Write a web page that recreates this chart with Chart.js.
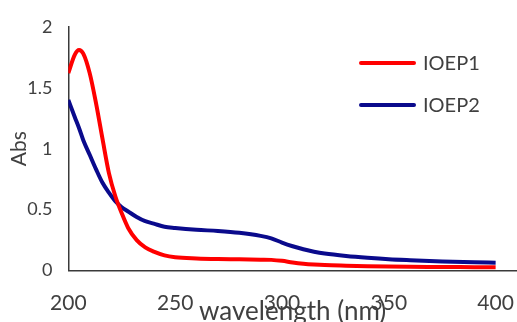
<!DOCTYPE html>
<html>
<head>
<meta charset="utf-8">
<title>UV-Vis absorbance</title>
<script src="https://cdn.jsdelivr.net/npm/chart.js@4"></script>
<style>
  html, body { margin: 0; padding: 0; background: #fff; }
  #wrap { width: 517px; height: 322px; position: relative; }
</style>
</head>
<body>
<div id="wrap"><canvas id="spectra"></canvas></div>
<script>
// Wavelengths (nm) where absorbance was sampled
const wavelengths = [200, 203, 205, 207, 210, 213, 216, 219, 222, 225, 228, 232, 236, 240, 245, 250,
    260, 270, 280, 290, 295, 300, 305, 310, 315, 320, 330, 340, 350, 360, 375, 390, 400];

// Absorbance readings for each sample
const ioep1 = [1.62, 1.77, 1.81, 1.78, 1.62, 1.37, 1.08, 0.80, 0.61, 0.47, 0.35, 0.25, 0.19, 0.155, 0.125, 0.11,
    0.10, 0.095, 0.093, 0.09, 0.088, 0.08, 0.067, 0.057, 0.05, 0.045, 0.04, 0.036, 0.033, 0.031, 0.03, 0.028, 0.027];
const ioep2 = [1.40, 1.26, 1.17, 1.07, 0.95, 0.83, 0.72, 0.64, 0.57, 0.52, 0.485, 0.44, 0.405, 0.385, 0.36, 0.35,
    0.335, 0.325, 0.31, 0.285, 0.265, 0.23, 0.20, 0.175, 0.155, 0.14, 0.12, 0.105, 0.093, 0.085, 0.075, 0.068, 0.065];

const seriesNames = ['IOEP1', 'IOEP2'];
const seriesColors = ['#ff0000', '#0a0a8c'];

const xTicks = [200, 250, 300, 350, 400];
const yTicks = [0, 0.5, 1, 1.5, 2];

const textColor = '#404040';
const axisColor = '#3a3a3a';

function toPoints(values) {
    return wavelengths.map((w, i) => ({ x: w, y: values[i] }));
}

// Legend drawn inside the plot, to the upper right
const insideLegend = {
    id: 'insideLegend',
    afterDraw(chart) {
        const ctx = chart.ctx;
        ctx.save();
        ctx.font = '20px Lato';
        ctx.textBaseline = 'middle';
        ctx.textAlign = 'left';
        chart.data.datasets.forEach((ds, i) => {
            const y = 63 + i * 42;
            ctx.strokeStyle = ds.borderColor;
            ctx.lineWidth = 4;
            ctx.lineCap = 'round';
            ctx.beginPath();
            ctx.moveTo(361, y);
            ctx.lineTo(414, y);
            ctx.stroke();
            ctx.fillStyle = textColor;
            ctx.fillText(ds.label, 423, y + 1);
        });
        ctx.restore();
    }
};

document.addEventListener('DOMContentLoaded', () => {
    const ctx = document.getElementById('spectra').getContext('2d');
    new Chart(ctx, {
        type: 'line',
        data: {
            datasets: [ioep1, ioep2].map((vals, i) => ({
                label: seriesNames[i],
                data: toPoints(vals),
                borderColor: seriesColors[i],
                backgroundColor: seriesColors[i],
                borderWidth: 4,
                pointRadius: 0,
                tension: 0.4,
                cubicInterpolationMode: 'monotone',
                fill: false
            }))
        },
        options: {
            responsive: true,
            maintainAspectRatio: false,
            animation: false,
            layout: {
                padding: { top: 18, left: 7, right: 0, bottom: -5 }
            },
            plugins: {
                legend: { display: false },
                tooltip: { enabled: false }
            },
            scales: {
                x: {
                    type: 'linear',
                    min: 200,
                    max: 410,
                    // tick marks hidden, but their length keeps the labels clear of the axis
                    grid: { display: false, drawTicks: true, tickLength: 18 },
                    border: { display: true, color: axisColor, width: 1.5 },
                    afterBuildTicks: (scale) => {
                        scale.ticks = xTicks.map(v => ({ value: v }));
                    },
                    ticks: {
                        color: textColor,
                        font: { family: 'Lato', size: 21 },
                        padding: 2,
                        maxRotation: 0,
                        callback: (v) => String(v)
                    },
                    title: {
                        display: true,
                        text: 'wavelength (nm)',
                        color: textColor,
                        font: { family: 'Lato', size: 26 },
                        padding: { top: -22, bottom: 0 }
                    }
                },
                y: {
                    min: 0,
                    max: 2,
                    grid: { display: false, drawTicks: false },
                    border: { display: true, color: axisColor, width: 1.5 },
                    afterBuildTicks: (scale) => {
                        scale.ticks = yTicks.map(v => ({ value: v }));
                    },
                    ticks: {
                        color: textColor,
                        font: { family: 'Lato', size: 18 },
                        padding: 16,
                        callback: (v) => String(v)
                    },
                    title: {
                        display: true,
                        text: 'Abs',
                        color: textColor,
                        font: { family: 'Lato', size: 21 },
                        padding: { top: 0, bottom: -21 }
                    }
                }
            }
        },
        plugins: [insideLegend]
    });
});
</script>
</body>
</html>
